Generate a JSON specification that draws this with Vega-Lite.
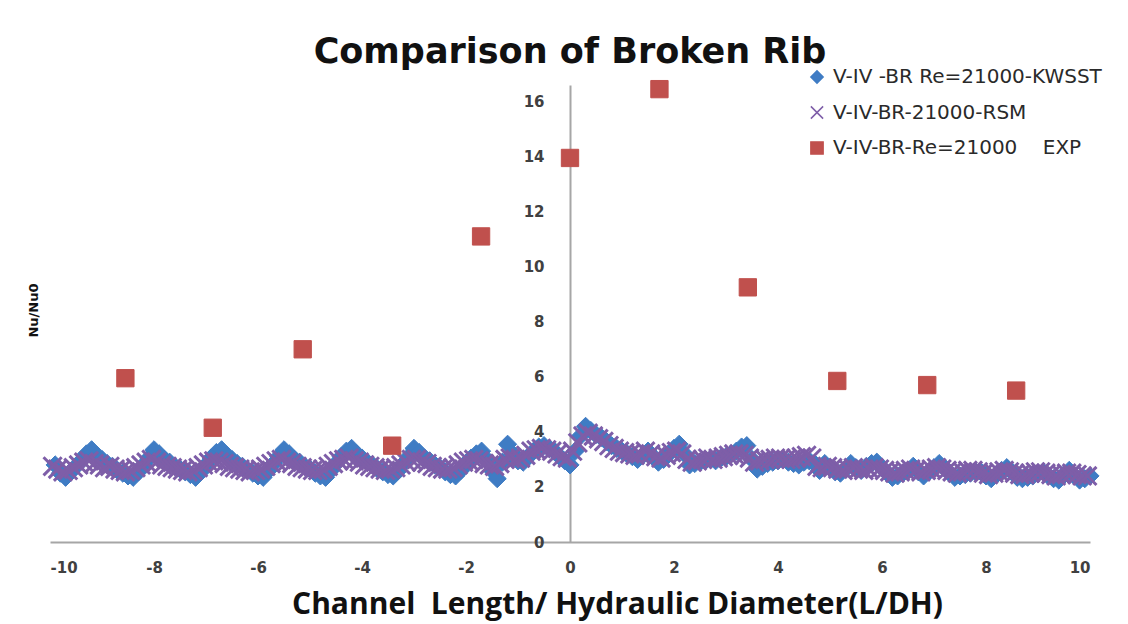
{
  "$schema": "https://vega.github.io/schema/vega-lite/v6.json",
  "width": 1040,
  "height": 457,
  "autosize": {"type": "none"},
  "padding": {"left": 50, "top": 85, "right": 38, "bottom": 82},
  "background": "white",
  "title": {"text": "Comparison of Broken Rib", "font": "DejaVu Sans", "fontSize": 35, "fontWeight": "bold", "color": "#111111", "anchor": "middle", "frame": "group", "offset": -3},
  "datasets": {
    "kw": [
      {"x":-9.9,"y":2.8},{"x":-9.8,"y":2.5},{"x":-9.7,"y":2.35},{"x":-9.6,"y":2.55},{"x":-9.5,"y":2.75},{"x":-9.4,"y":2.95},{"x":-9.3,"y":3.2},{"x":-9.2,"y":3.35},{"x":-9.1,"y":3.15},{"x":-9.0,"y":3.0},
      {"x":-8.9,"y":2.85},{"x":-8.8,"y":2.75},{"x":-8.7,"y":2.6},{"x":-8.6,"y":2.5},{"x":-8.5,"y":2.4},{"x":-8.4,"y":2.35},{"x":-8.3,"y":2.55},{"x":-8.2,"y":2.8},{"x":-8.1,"y":3.05},{"x":-8.0,"y":3.35},
      {"x":-7.9,"y":3.2},{"x":-7.8,"y":3.0},{"x":-7.7,"y":2.9},{"x":-7.6,"y":2.75},{"x":-7.5,"y":2.65},{"x":-7.4,"y":2.55},{"x":-7.3,"y":2.45},{"x":-7.2,"y":2.35},{"x":-7.1,"y":2.55},{"x":-7.0,"y":2.8},
      {"x":-6.9,"y":3.05},{"x":-6.8,"y":3.25},{"x":-6.7,"y":3.35},{"x":-6.6,"y":3.15},{"x":-6.5,"y":3.0},{"x":-6.4,"y":2.85},{"x":-6.3,"y":2.75},{"x":-6.2,"y":2.6},{"x":-6.1,"y":2.5},{"x":-6.0,"y":2.4},
      {"x":-5.9,"y":2.35},{"x":-5.8,"y":2.6},{"x":-5.7,"y":2.85},{"x":-5.6,"y":3.1},{"x":-5.5,"y":3.35},{"x":-5.4,"y":3.2},{"x":-5.3,"y":3.0},{"x":-5.2,"y":2.9},{"x":-5.1,"y":2.75},{"x":-5.0,"y":2.65},
      {"x":-4.9,"y":2.5},{"x":-4.8,"y":2.4},{"x":-4.7,"y":2.35},{"x":-4.6,"y":2.6},{"x":-4.5,"y":2.85},{"x":-4.4,"y":3.1},{"x":-4.3,"y":3.3},{"x":-4.2,"y":3.4},{"x":-4.1,"y":3.2},{"x":-4.0,"y":3.05},
      {"x":-3.9,"y":2.9},{"x":-3.8,"y":2.8},{"x":-3.7,"y":2.65},{"x":-3.6,"y":2.55},{"x":-3.5,"y":2.45},{"x":-3.4,"y":2.4},{"x":-3.3,"y":2.6},{"x":-3.2,"y":2.85},{"x":-3.1,"y":3.1},{"x":-3.0,"y":3.4},
      {"x":-2.9,"y":3.25},{"x":-2.8,"y":3.05},{"x":-2.7,"y":2.95},{"x":-2.6,"y":2.8},{"x":-2.5,"y":2.7},{"x":-2.4,"y":2.55},{"x":-2.3,"y":2.45},{"x":-2.2,"y":2.4},{"x":-2.1,"y":2.6},{"x":-2.0,"y":2.85},
      {"x":-1.9,"y":3.05},{"x":-1.8,"y":3.2},{"x":-1.7,"y":3.3},{"x":-1.6,"y":3.0},{"x":-1.5,"y":2.6},{"x":-1.4,"y":2.3},{"x":-1.3,"y":2.9},{"x":-1.2,"y":3.55},{"x":-1.1,"y":3.2},{"x":-1.0,"y":2.95},
      {"x":-0.9,"y":2.9},{"x":-0.8,"y":3.1},{"x":-0.7,"y":3.3},{"x":-0.6,"y":3.45},{"x":-0.5,"y":3.5},{"x":-0.4,"y":3.4},{"x":-0.3,"y":3.3},{"x":-0.2,"y":3.1},{"x":-0.1,"y":2.95},{"x":0.0,"y":2.8},
      {"x":0.1,"y":3.3},{"x":0.2,"y":3.85},{"x":0.3,"y":4.2},{"x":0.4,"y":4.05},{"x":0.5,"y":3.9},{"x":0.6,"y":3.8},{"x":0.7,"y":3.65},{"x":0.8,"y":3.5},{"x":0.9,"y":3.4},{"x":1.0,"y":3.3},
      {"x":1.1,"y":3.2},{"x":1.2,"y":3.1},{"x":1.3,"y":3.0},{"x":1.4,"y":3.15},{"x":1.5,"y":3.3},{"x":1.6,"y":3.1},{"x":1.7,"y":2.9},{"x":1.8,"y":3.0},{"x":1.9,"y":3.2},{"x":2.0,"y":3.4},
      {"x":2.1,"y":3.55},{"x":2.2,"y":3.2},{"x":2.3,"y":2.8},{"x":2.4,"y":2.85},{"x":2.5,"y":2.9},{"x":2.6,"y":2.95},{"x":2.7,"y":3.0},{"x":2.8,"y":2.95},{"x":2.9,"y":3.05},{"x":3.0,"y":3.1},
      {"x":3.1,"y":3.2},{"x":3.2,"y":3.3},{"x":3.3,"y":3.45},{"x":3.4,"y":3.5},{"x":3.5,"y":3.0},{"x":3.6,"y":2.65},{"x":3.7,"y":2.75},{"x":3.8,"y":2.85},{"x":3.9,"y":2.9},{"x":4.0,"y":2.95},
      {"x":4.1,"y":3.0},{"x":4.2,"y":2.9},{"x":4.3,"y":2.85},{"x":4.4,"y":2.8},{"x":4.5,"y":2.9},{"x":4.6,"y":2.95},{"x":4.7,"y":2.85},{"x":4.8,"y":2.6},{"x":4.9,"y":2.85},{"x":5.0,"y":2.7},
      {"x":5.1,"y":2.55},{"x":5.2,"y":2.5},{"x":5.3,"y":2.65},{"x":5.4,"y":2.85},{"x":5.5,"y":2.7},{"x":5.6,"y":2.6},{"x":5.7,"y":2.75},{"x":5.8,"y":2.85},{"x":5.9,"y":2.9},{"x":6.0,"y":2.7},
      {"x":6.1,"y":2.5},{"x":6.2,"y":2.35},{"x":6.3,"y":2.4},{"x":6.4,"y":2.5},{"x":6.5,"y":2.6},{"x":6.6,"y":2.75},{"x":6.7,"y":2.55},{"x":6.8,"y":2.4},{"x":6.9,"y":2.55},{"x":7.0,"y":2.7},
      {"x":7.1,"y":2.85},{"x":7.2,"y":2.7},{"x":7.3,"y":2.5},{"x":7.4,"y":2.35},{"x":7.5,"y":2.4},{"x":7.6,"y":2.45},{"x":7.7,"y":2.5},{"x":7.8,"y":2.55},{"x":7.9,"y":2.55},{"x":8.0,"y":2.4},
      {"x":8.1,"y":2.3},{"x":8.2,"y":2.45},{"x":8.3,"y":2.6},{"x":8.4,"y":2.7},{"x":8.5,"y":2.55},{"x":8.6,"y":2.35},{"x":8.7,"y":2.3},{"x":8.8,"y":2.35},{"x":8.9,"y":2.4},{"x":9.0,"y":2.5},
      {"x":9.1,"y":2.55},{"x":9.2,"y":2.4},{"x":9.3,"y":2.3},{"x":9.4,"y":2.25},{"x":9.5,"y":2.45},{"x":9.6,"y":2.6},{"x":9.7,"y":2.4},{"x":9.8,"y":2.25},{"x":9.9,"y":2.3},{"x":10.0,"y":2.4}
    ],
    "rsm": [
      {"x":-9.95,"y":2.75},{"x":-9.85,"y":2.65},{"x":-9.75,"y":2.55},{"x":-9.65,"y":2.6},{"x":-9.55,"y":2.7},{"x":-9.45,"y":2.8},{"x":-9.35,"y":2.9},{"x":-9.25,"y":2.95},{"x":-9.15,"y":2.85},{"x":-9.05,"y":2.8},
      {"x":-8.95,"y":2.7},{"x":-8.85,"y":2.75},{"x":-8.75,"y":2.65},{"x":-8.65,"y":2.6},{"x":-8.55,"y":2.55},{"x":-8.45,"y":2.6},{"x":-8.35,"y":2.7},{"x":-8.25,"y":2.8},{"x":-8.15,"y":2.9},{"x":-8.05,"y":3.0},
      {"x":-7.95,"y":2.9},{"x":-7.85,"y":2.8},{"x":-7.75,"y":2.75},{"x":-7.65,"y":2.7},{"x":-7.55,"y":2.65},{"x":-7.45,"y":2.6},{"x":-7.35,"y":2.55},{"x":-7.25,"y":2.6},{"x":-7.15,"y":2.7},{"x":-7.05,"y":2.8},
      {"x":-6.95,"y":2.9},{"x":-6.85,"y":2.95},{"x":-6.75,"y":2.9},{"x":-6.65,"y":2.85},{"x":-6.55,"y":2.75},{"x":-6.45,"y":2.7},{"x":-6.35,"y":2.65},{"x":-6.25,"y":2.6},{"x":-6.15,"y":2.55},{"x":-6.05,"y":2.6},
      {"x":-5.95,"y":2.65},{"x":-5.85,"y":2.75},{"x":-5.75,"y":2.85},{"x":-5.65,"y":2.95},{"x":-5.55,"y":3.0},{"x":-5.45,"y":2.9},{"x":-5.35,"y":2.85},{"x":-5.25,"y":2.75},{"x":-5.15,"y":2.7},{"x":-5.05,"y":2.65},
      {"x":-4.95,"y":2.6},{"x":-4.85,"y":2.6},{"x":-4.75,"y":2.65},{"x":-4.65,"y":2.75},{"x":-4.55,"y":2.85},{"x":-4.45,"y":2.95},{"x":-4.35,"y":3.0},{"x":-4.25,"y":3.05},{"x":-4.15,"y":2.95},{"x":-4.05,"y":2.9},
      {"x":-3.95,"y":2.8},{"x":-3.85,"y":2.75},{"x":-3.75,"y":2.7},{"x":-3.65,"y":2.65},{"x":-3.55,"y":2.6},{"x":-3.45,"y":2.65},{"x":-3.35,"y":2.7},{"x":-3.25,"y":2.8},{"x":-3.15,"y":2.9},{"x":-3.05,"y":3.0},
      {"x":-2.95,"y":3.0},{"x":-2.85,"y":2.9},{"x":-2.75,"y":2.85},{"x":-2.65,"y":2.75},{"x":-2.55,"y":2.7},{"x":-2.45,"y":2.65},{"x":-2.35,"y":2.65},{"x":-2.25,"y":2.7},{"x":-2.15,"y":2.8},{"x":-2.05,"y":2.9},
      {"x":-1.95,"y":2.95},{"x":-1.85,"y":3.0},{"x":-1.75,"y":2.95},{"x":-1.65,"y":2.85},{"x":-1.55,"y":2.8},{"x":-1.45,"y":2.75},{"x":-1.35,"y":2.85},{"x":-1.25,"y":3.0},{"x":-1.15,"y":3.05},{"x":-1.05,"y":3.0},
      {"x":-0.95,"y":3.05},{"x":-0.85,"y":3.15},{"x":-0.75,"y":3.3},{"x":-0.65,"y":3.35},{"x":-0.55,"y":3.4},{"x":-0.45,"y":3.35},{"x":-0.35,"y":3.3},{"x":-0.25,"y":3.2},{"x":-0.15,"y":3.1},{"x":-0.05,"y":3.05},
      {"x":0.05,"y":3.3},{"x":0.15,"y":3.6},{"x":0.25,"y":3.85},{"x":0.35,"y":3.95},{"x":0.45,"y":3.85},{"x":0.55,"y":3.75},{"x":0.65,"y":3.65},{"x":0.75,"y":3.5},{"x":0.85,"y":3.4},{"x":0.95,"y":3.3},
      {"x":1.05,"y":3.25},{"x":1.15,"y":3.2},{"x":1.25,"y":3.15},{"x":1.35,"y":3.2},{"x":1.45,"y":3.3},{"x":1.55,"y":3.2},{"x":1.65,"y":3.1},{"x":1.75,"y":3.05},{"x":1.85,"y":3.15},{"x":1.95,"y":3.25},
      {"x":2.05,"y":3.3},{"x":2.15,"y":3.2},{"x":2.25,"y":3.0},{"x":2.35,"y":2.9},{"x":2.45,"y":2.95},{"x":2.55,"y":3.0},{"x":2.65,"y":3.05},{"x":2.75,"y":3.0},{"x":2.85,"y":3.05},{"x":2.95,"y":3.1},
      {"x":3.05,"y":3.15},{"x":3.15,"y":3.2},{"x":3.25,"y":3.2},{"x":3.35,"y":3.15},{"x":3.45,"y":3.05},{"x":3.55,"y":2.9},{"x":3.65,"y":2.95},{"x":3.75,"y":3.0},{"x":3.85,"y":3.0},{"x":3.95,"y":3.05},
      {"x":4.05,"y":3.05},{"x":4.15,"y":3.0},{"x":4.25,"y":3.0},{"x":4.35,"y":3.05},{"x":4.45,"y":3.1},{"x":4.55,"y":3.15},{"x":4.65,"y":3.05},{"x":4.75,"y":2.75},{"x":4.85,"y":2.7},{"x":4.95,"y":2.75},
      {"x":5.05,"y":2.7},{"x":5.15,"y":2.65},{"x":5.25,"y":2.6},{"x":5.35,"y":2.65},{"x":5.45,"y":2.7},{"x":5.55,"y":2.65},{"x":5.65,"y":2.6},{"x":5.75,"y":2.65},{"x":5.85,"y":2.7},{"x":5.95,"y":2.65},
      {"x":6.05,"y":2.6},{"x":6.15,"y":2.55},{"x":6.25,"y":2.5},{"x":6.35,"y":2.55},{"x":6.45,"y":2.6},{"x":6.55,"y":2.65},{"x":6.65,"y":2.6},{"x":6.75,"y":2.55},{"x":6.85,"y":2.6},{"x":6.95,"y":2.65},
      {"x":7.05,"y":2.7},{"x":7.15,"y":2.65},{"x":7.25,"y":2.6},{"x":7.35,"y":2.55},{"x":7.45,"y":2.5},{"x":7.55,"y":2.55},{"x":7.65,"y":2.6},{"x":7.75,"y":2.6},{"x":7.85,"y":2.55},{"x":7.95,"y":2.5},
      {"x":8.05,"y":2.45},{"x":8.15,"y":2.5},{"x":8.25,"y":2.55},{"x":8.35,"y":2.6},{"x":8.45,"y":2.55},{"x":8.55,"y":2.5},{"x":8.65,"y":2.45},{"x":8.75,"y":2.45},{"x":8.85,"y":2.5},{"x":8.95,"y":2.55},
      {"x":9.05,"y":2.55},{"x":9.15,"y":2.5},{"x":9.25,"y":2.45},{"x":9.35,"y":2.4},{"x":9.45,"y":2.45},{"x":9.55,"y":2.5},{"x":9.65,"y":2.5},{"x":9.75,"y":2.45},{"x":9.85,"y":2.4},{"x":9.95,"y":2.4}
    ],
    "exp": [
      {"x":-8.55,"y":5.95},{"x":-6.87,"y":4.15},{"x":-5.14,"y":7.0},{"x":-3.42,"y":3.5},{"x":-1.71,"y":11.1},{"x":0.0,"y":13.95},{"x":1.72,"y":16.45},{"x":3.42,"y":9.25},{"x":5.14,"y":5.85},{"x":6.87,"y":5.7},{"x":8.58,"y":5.5}
    ]
  },
  "encoding": {
    "x": {"field": "x", "type": "quantitative", "scale": {"domain": [-10, 10], "nice": false, "zero": false},
      "axis": {"values": [-10,-8,-6,-4,-2,0,2,4,6,8,10], "labelExpr": "datum.value + ''", "grid": false, "ticks": false, "domainColor": "#a6a6a6", "domainWidth": 2, "labelFont": "DejaVu Sans", "labelFontSize": 15, "labelFontWeight": "bold", "labelColor": "#404040", "labelPadding": 18,
        "title": "Channel\u00a0 Length/ Hydraulic Diameter(L/DH)", "titleFont": "Open Sans", "titleFontSize": 30, "titleFontWeight": "bold", "titleColor": "#111111", "titleX": 567, "titleY": 62, "titleAnchor": "middle", "titleAlign": "center", "titleBaseline": "middle"}},
    "y": {"field": "y", "type": "quantitative", "scale": {"domain": [0, 16.6], "nice": false},
      "axis": {"values": [0,2,4,6,8,10,12,14,16], "offset": -520, "grid": false, "ticks": false, "domainColor": "#a6a6a6", "domainWidth": 2, "labelFont": "DejaVu Sans", "labelFontSize": 15, "labelFontWeight": "bold", "labelColor": "#404040", "labelPadding": 26,
        "title": "Nu/Nu0", "titleFont": "DejaVu Sans", "titleFontSize": 13, "titleFontWeight": "bold", "titleColor": "#111111", "titleAngle": -90, "titleX": -537, "titleY": 225, "titleAlign": "center", "titleBaseline": "middle"}}
  },
  "layer": [
    {"data": {"name": "kw"}, "mark": {"type": "point", "filled": true, "size": 330, "strokeWidth": 1, "opacity": 1, "clip": false},
     "encoding": {
       "color": {"datum": "V-IV -BR Re=21000-KWSST", "scale": {"domain": ["V-IV -BR Re=21000-KWSST", "V-IV-BR-21000-RSM", "V-IV-BR-Re=21000\u00a0\u00a0\u00a0 EXP"], "range": ["#3f7cc4", "#7e5ea8", "#c0504d"]}},
       "stroke": {"datum": "V-IV -BR Re=21000-KWSST", "scale": {"domain": ["V-IV -BR Re=21000-KWSST", "V-IV-BR-21000-RSM", "V-IV-BR-Re=21000\u00a0\u00a0\u00a0 EXP"], "range": ["#3f7cc4", "#7e5ea8", "#c0504d"]}},
       "shape": {"datum": "V-IV -BR Re=21000-KWSST", "scale": {"domain": ["V-IV -BR Re=21000-KWSST", "V-IV-BR-21000-RSM", "V-IV-BR-Re=21000\u00a0\u00a0\u00a0 EXP"], "range": ["diamond", "M-1,-1L1,1M1,-1L-1,1", "square"]}}}},
    {"data": {"name": "rsm"}, "mark": {"type": "point", "filled": false, "size": 330, "strokeWidth": 3, "opacity": 1, "clip": false},
     "encoding": {"color": {"datum": "V-IV-BR-21000-RSM"}, "stroke": {"datum": "V-IV-BR-21000-RSM"}, "shape": {"datum": "V-IV-BR-21000-RSM"}}},
    {"data": {"name": "exp"}, "mark": {"type": "point", "filled": true, "size": 300, "strokeWidth": 1, "opacity": 1, "clip": false},
     "encoding": {"color": {"datum": "V-IV-BR-Re=21000\u00a0\u00a0\u00a0 EXP"}, "stroke": {"datum": "V-IV-BR-Re=21000\u00a0\u00a0\u00a0 EXP"}, "shape": {"datum": "V-IV-BR-Re=21000\u00a0\u00a0\u00a0 EXP"}}}
  ],
  "resolve": {"scale": {"color": "shared", "shape": "shared", "stroke": "shared"}},
  "config": {"view": {"stroke": null}, "font": "DejaVu Sans",
    "legend": {"orient": "none", "legendX": 757, "legendY": -18, "title": null, "labelFont": "DejaVu Sans", "labelFontSize": 20, "labelColor": "#2a2a2a", "labelOffset": 6, "symbolSize": 150, "rowPadding": 15.5, "padding": 0, "symbolStrokeWidth": 1.5, "labelLimit": 400}
  }
}
